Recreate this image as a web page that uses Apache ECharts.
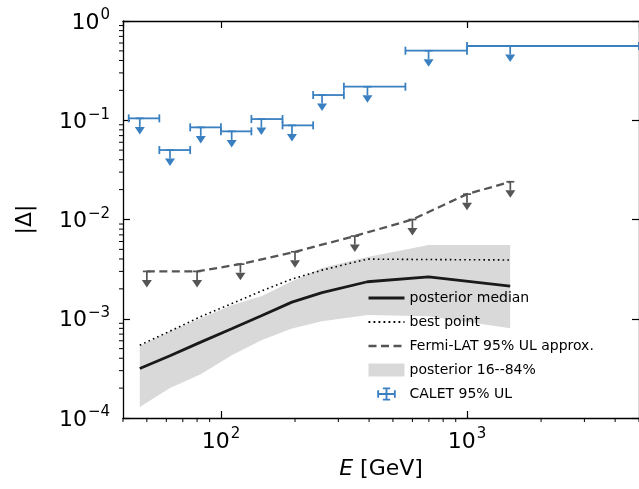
<!DOCTYPE html>
<html lang="en">
<head>
    <meta charset="UTF-8">
    <title>Delta limits</title>
    <script src="https://cdn.jsdelivr.net/npm/echarts@6/dist/echarts.min.js"></script>
    <style>
        html, body {
            margin: 0;
            height: 100%;
            width: 100%;
            overflow: hidden;
            background: #fff;
        }
    </style>
</head>
<body>
<div id="chart" style="width: 639px;height: 489px;"></div>
<script>
    // CALET 95% UL bins
    var calEdges = [42.2, 56.2, 75, 100, 133, 178, 237, 316, 562, 1000, 5000];
    var calE = [46.8, 62.1, 82.8, 110.6, 146, 194.4, 257.6, 394, 698, 1498];
    var calUL = [0.1045, 0.0501, 0.0848, 0.0773, 0.1028, 0.0888, 0.1795, 0.2177, 0.502, 0.56];

    // model curves (evaluated at CALET energies)
    var modelE = [46.8, 62.1, 82.8, 110.6, 146, 194.4, 257.6, 394, 698, 1498];
    var median = [3.15e-4, 4.24e-4, 5.81e-4, 7.93e-4, 1.07e-3, 1.47e-3, 1.83e-3, 2.36e-3, 2.64e-3, 2.13e-3];
    var best = [5.42e-4, 7.5e-4, 1.05e-3, 1.42e-3, 1.9e-3, 2.51e-3, 3.09e-3, 3.99e-3, 3.95e-3, 3.91e-3];
    var bandLo = [1.29e-4, 2.0e-4, 2.76e-4, 4.3e-4, 6.08e-4, 7.98e-4, 9.46e-4, 1.09e-3, 1.06e-3, 8.04e-4];
    var bandHi = [5.3e-4, 7.5e-4, 1.01e-3, 1.37e-3, 1.69e-3, 2.39e-3, 3.24e-3, 4.18e-3, 5.52e-3, 5.52e-3];

    // Fermi-LAT approx UL
    var fermiE = [50, 80, 120, 200, 350, 600, 1000, 1500];
    var fermiUL = [3.0e-3, 3.0e-3, 3.55e-3, 4.73e-3, 6.81e-3, 1.0e-2, 1.8e-2, 2.4e-2];

    // minor tick positions
    var xMinor = [40, 50, 60, 70, 80, 90, 200, 300, 400, 500, 600, 700, 800, 900, 2000, 3000, 4000, 5000];
    var yMinor = [];
    [1e-4, 1e-3, 1e-2, 1e-1].forEach(function (d) {
        for (var k = 2; k <= 9; k++) yMinor.push(k * d);
    });

    var X_MIN = 40, X_MAX = 5000, Y_MIN = 1e-4, Y_MAX = 1;
    var FONT = 'DejaVu Sans';
    var BLUE = '#3a80c0';
    var GREY = '#555555';
    var ARROW = 0.82;

    function powLabel(v) {
        var e = Math.round(Math.log10(v));
        if (Math.abs(v - Math.pow(10, e)) / v > 1e-6) return '';
        return '{b|10}{s|' + String(e).replace('-', '\u2212') + '}';
    }

    var richLab = {
        b: {fontSize: 22, fontFamily: FONT, color: '#000', verticalAlign: 'bottom', lineHeight: 24},
        s: {fontSize: 15, fontFamily: FONT, color: '#000', verticalAlign: 'bottom', padding: [0, 0, 11, 1]}
    };

    // upper-limit glyph: cap, stem, caret
    function ulParts(api, x, y, color) {
        var p = api.coord([x, y]);
        var b = api.coord([x, y * ARROW]);
        var st = {stroke: color, lineWidth: 1.7};
        return [
            {type: 'line', shape: {x1: p[0] - 4, y1: p[1], x2: p[0] + 4, y2: p[1]}, style: st},
            {type: 'line', shape: {x1: p[0], y1: p[1], x2: b[0], y2: b[1]}, style: st},
            {type: 'polygon', shape: {points: [[b[0] - 5, b[1]], [b[0] + 5, b[1]], [b[0], b[1] + 7.5]]},
                style: {fill: color}}
        ];
    }

    var chart = echarts.init(document.getElementById('chart'));

    var axisCommon = {
        type: 'log',
        logBase: 10,
        splitLine: {show: false},
        axisLine: {show: true, lineStyle: {color: '#000', width: 1.3}},
        axisTick: {show: true, inside: true, length: 7, lineStyle: {color: '#000', width: 1.2}}
    };

    var noSymbol = {opacity: 0};

    chart.setOption({
        animation: false,
        backgroundColor: '#fff',
        grid: {left: 123, right: -1, top: 21, bottom: 71, containLabel: false},
        xAxis: [
            Object.assign({}, axisCommon, {
                min: X_MIN, max: X_MAX, position: 'bottom',
                axisLabel: {formatter: powLabel, rich: richLab, margin: 9, showMinLabel: false, showMaxLabel: false},
                name: '{i|E} [GeV]',
                nameLocation: 'middle',
                nameGap: 39,
                nameTextStyle: {
                    fontSize: 22, fontFamily: FONT, color: '#000',
                    rich: {i: {fontSize: 22, fontFamily: FONT, fontStyle: 'italic', color: '#000'}}
                }
            }),
            Object.assign({}, axisCommon, {
                min: X_MIN, max: X_MAX, position: 'top',
                axisLabel: {show: false}
            })
        ],
        yAxis: [
            Object.assign({}, axisCommon, {
                min: Y_MIN, max: Y_MAX, position: 'left',
                axisLabel: {formatter: powLabel, rich: richLab, margin: 13},
                name: '|\u0394|',
                nameLocation: 'middle',
                nameGap: 87,
                nameTextStyle: {fontSize: 22, fontFamily: FONT, color: '#000'}
            }),
            Object.assign({}, axisCommon, {
                min: Y_MIN, max: Y_MAX, position: 'right',
                axisLabel: {show: false}
            })
        ],
        legend: {
            left: 362,
            top: 286,
            orient: 'vertical',
            itemWidth: 36,
            itemHeight: 13,
            itemGap: 10,
            textStyle: {fontSize: 14, fontFamily: FONT, color: '#000', lineHeight: 14},
            data: [
                {name: 'posterior median', itemStyle: noSymbol,
                    lineStyle: {width: 3, color: '#1a1a1a'}},
                {name: 'best point', itemStyle: noSymbol,
                    lineStyle: {width: 1.8, color: '#000', type: [1.8, 3.2]}},
                {name: 'Fermi-LAT 95% UL approx.', itemStyle: noSymbol,
                    lineStyle: {width: 2.5, color: GREY, type: [8, 4.5]}},
                {name: 'posterior 16--84%', icon: 'rect'},
                {
                    name: 'CALET 95% UL',
                    icon: 'path://M0,6h20v2h-20z M0,3h2v8h-2z M18,3h2v8h-2z M9,0h2v14h-2z M6,0h8v2h-8z M6,12h8v2h-8z'
                }
            ]
        },
        series: [
            {
                name: 'posterior 16--84%',
                type: 'custom',
                z: 1,
                itemStyle: {color: '#d9d9d9'},
                data: modelE.map(function (e, i) { return [e, bandLo[i], bandHi[i]]; }),
                encode: {x: 0, y: [1, 2]},
                renderItem: function (params, api) {
                    if (params.dataIndex !== 0) return;
                    var pts = [];
                    for (var i = 0; i < modelE.length; i++) pts.push(api.coord([modelE[i], bandHi[i]]));
                    for (var j = modelE.length - 1; j >= 0; j--) pts.push(api.coord([modelE[j], bandLo[j]]));
                    return {type: 'polygon', shape: {points: pts}, style: {fill: '#d9d9d9'}};
                }
            },
            {
                name: 'posterior median',
                type: 'line',
                z: 3,
                symbol: 'none',
                data: modelE.map(function (e, i) { return [e, median[i]]; }),
                itemStyle: {color: '#1a1a1a'},
                lineStyle: {color: '#1a1a1a', width: 2.8}
            },
            {
                name: 'best point',
                type: 'line',
                z: 3,
                symbol: 'none',
                data: modelE.map(function (e, i) { return [e, best[i]]; }),
                itemStyle: {color: '#000'},
                lineStyle: {color: '#000', width: 1.6, type: [1.6, 3.2]}
            },
            {
                name: 'Fermi-LAT 95% UL approx.',
                type: 'line',
                z: 3,
                symbol: 'none',
                data: fermiE.map(function (e, i) { return [e, fermiUL[i]]; }),
                itemStyle: {color: GREY},
                lineStyle: {color: GREY, width: 2.3, type: [8, 4.5]}
            },
            {
                name: 'Fermi-LAT arrows',
                type: 'custom',
                z: 4,
                clip: false,
                data: fermiE.map(function (e, i) { return [e, fermiUL[i]]; }),
                renderItem: function (params, api) {
                    return {type: 'group', children: ulParts(api, api.value(0), api.value(1), GREY)};
                }
            },
            {
                name: 'CALET 95% UL',
                type: 'custom',
                z: 5,
                clip: false,
                itemStyle: {color: BLUE},
                data: calE.map(function (e, i) { return [e, calUL[i], calEdges[i], calEdges[i + 1]]; }),
                encode: {x: 0, y: 1},
                renderItem: function (params, api) {
                    var y = api.value(1);
                    var a = api.coord([api.value(2), y]);
                    var b = api.coord([api.value(3), y]);
                    var st = {stroke: BLUE, lineWidth: 1.8};
                    var kids = [
                        {type: 'line', shape: {x1: a[0], y1: a[1], x2: b[0], y2: b[1]}, style: st},
                        {type: 'line', shape: {x1: a[0], y1: a[1] - 4, x2: a[0], y2: a[1] + 4}, style: st},
                        {type: 'line', shape: {x1: b[0], y1: b[1] - 4, x2: b[0], y2: b[1] + 4}, style: st}
                    ];
                    return {type: 'group', children: kids.concat(ulParts(api, api.value(0), y, BLUE))};
                }
            },
            {
                name: 'x minor',
                type: 'custom',
                clip: false,
                silent: true,
                data: xMinor.map(function (v) { return [v, Y_MIN]; }),
                renderItem: function (params, api) {
                    var p = api.coord([api.value(0), api.value(1)]);
                    return {type: 'line', shape: {x1: p[0], y1: p[1], x2: p[0], y2: p[1] + 4},
                        style: {stroke: '#000', lineWidth: 1}};
                }
            },
            {
                name: 'y minor',
                type: 'custom',
                clip: false,
                silent: true,
                data: yMinor.map(function (v) { return [X_MIN, v]; }),
                renderItem: function (params, api) {
                    var p = api.coord([api.value(0), api.value(1)]);
                    return {type: 'line', shape: {x1: p[0] - 4, y1: p[1], x2: p[0], y2: p[1]},
                        style: {stroke: '#000', lineWidth: 1}};
                }
            }
        ]
    });
</script>
</body>
</html>
